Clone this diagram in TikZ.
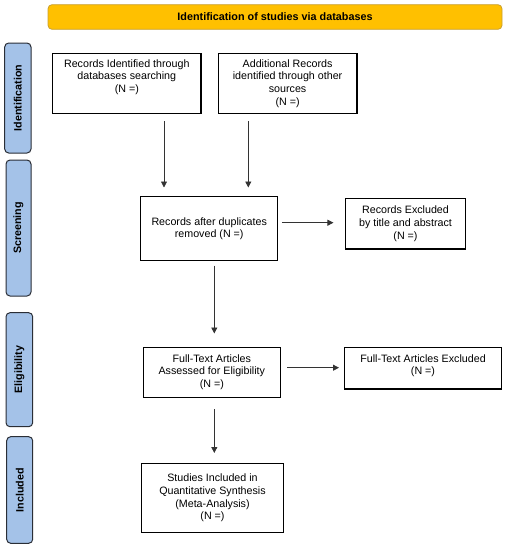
\documentclass[tikz,border=0pt]{standalone}
\usepackage{fontspec}
\setmainfont{Liberation Sans}
\usetikzlibrary{arrows.meta}
\definecolor{barfill}{HTML}{FFC000}
\definecolor{barline}{HTML}{C9A030}
\definecolor{tabfill}{HTML}{A4C2E8}
\definecolor{tabline}{HTML}{2A2E36}
\definecolor{arrowgray}{HTML}{333333}
\tikzset{
  txt/.style={font=\fontsize{10.7}{12.7}\selectfont},
  box/.style={draw=black, line width=1.1pt, fill=white, inner sep=0pt},
  tab/.style={draw=tabline, fill=tabfill, line width=1pt, rounded corners=4pt},
  tablabel/.style={font=\fontsize{10.7}{12.7}\selectfont\bfseries, rotate=90},
  arr/.style={draw=arrowgray, line width=0.8pt, -{Triangle[length=6pt,width=6pt]}},
}
\begin{document}
\begin{tikzpicture}[x=1pt,y=-1pt]
\useasboundingbox (0,0) rectangle (505,550);
% title bar
\draw[draw=barline, fill=barfill, line width=0.8pt, rounded corners=4pt] (48,4.7) rectangle (502,29.3);
\node[font=\fontsize{10.8}{12.7}\selectfont\bfseries] (title) at (275,17) {Identification of studies via databases};
% side tabs
\draw[tab] (4.7,43) rectangle (31,153);
\node[tablabel] (tid) at (17.8,98) {Identification};
\draw[tab] (6,160) rectangle (31,296);
\node[tablabel] (tsc) at (18.5,228) {Screening};
\draw[tab] (6,312.7) rectangle (32.7,426.7);
\node[tablabel] (tel) at (19.3,369.7) {Eligibility};
\draw[tab] (6.7,436.7) rectangle (32.7,543.3);
\node[tablabel] (tin) at (19.7,490) {Included};
% boxes
\draw[box] (52.7,53.3) rectangle (201,113.7);
\node[txt, align=center, anchor=north] (A) at (126.8,56) {Records Identified through\\databases searching\\(N =)};
\coordinate (Abot) at (164,121);
\draw[box] (218.3,53.3) rectangle (357,113.7);
\node[txt, align=center, anchor=north] (B) at (287.6,56) {Additional Records\\identified through other\\sources\\(N =)};
\coordinate (Bbot) at (248.3,121);
\node[box, minimum width=137pt, minimum height=64pt, txt, align=center] (C) at (209.2,228.7) {Records after duplicates\\removed (N =)};
\node[box, minimum width=119.6pt, minimum height=50.3pt, txt, align=center] (D) at (405.5,223.8) {Records Excluded\\by title and abstract\\(N =)};
\node[box, minimum width=137pt, minimum height=50.3pt, txt, align=center] (E) at (211.8,372.2) {Full-Text Articles\\Assessed for Eligibility\\(N =)};
\draw[box] (344.3,347.7) rectangle (501.7,389);
\node[txt, align=center, anchor=north] (F) at (423,351) {Full-Text Articles Excluded\\(N =)};
\coordinate (Fleft) at (339,367.7);
\node[box, minimum width=142.4pt, minimum height=69.4pt, txt, align=center] (G) at (212.5,498) {Studies Included in\\Quantitative Synthesis\\(Meta-Analysis)\\(N =)};
% arrows
\draw[arr] (Abot) -- (164,187.5);
\draw[arr] (Bbot) -- (248.3,187.5);
\draw[arr] ([xshift=3.5pt]C.east |- 0,222.7) -- ([xshift=-11.7pt]D.west |- 0,222.7);
\draw[arr] (214.3,265.7) -- (214.3,333.5);
\draw[arr] ([xshift=6.4pt]E.east |- 0,367.7) -- (Fleft);
\draw[arr] (214.3,409.3) -- (214.3,453);
\end{tikzpicture}
\end{document}
